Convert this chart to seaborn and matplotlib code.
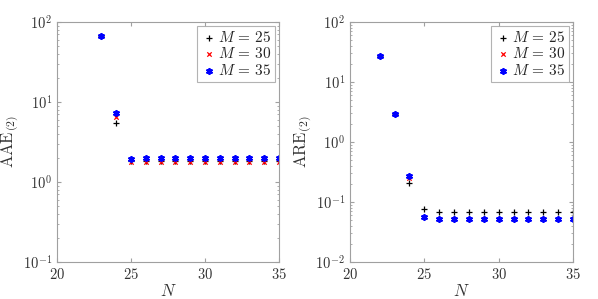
import seaborn as sns
import numpy as np
import pandas as pd
import matplotlib.pyplot as plt

# data
N_aae = [23, 24, 25, 26, 27, 28, 29, 30, 31, 32, 33, 34, 35]
aae_m25 = [66, 5.4, 1.85, 1.82, 1.82, 1.82, 1.82, 1.82, 1.82, 1.82, 1.82, 1.82, 1.82]
aae_m30 = [66, 6.5, 1.78, 1.76, 1.76, 1.76, 1.76, 1.76, 1.76, 1.76, 1.76, 1.76, 1.76]
aae_m35 = [66, 7.2, 1.92, 1.97, 1.97, 1.97, 1.97, 1.97, 1.97, 1.97, 1.97, 1.97, 1.97]

N_are = [22, 23, 24, 25, 26, 27, 28, 29, 30, 31, 32, 33, 34, 35]
are_m25 = [27, 2.97, 0.207, 0.077, 0.068, 0.068, 0.068, 0.068, 0.068, 0.068, 0.068, 0.068, 0.068, 0.068]
are_m30 = [27, 2.97, 0.25, 0.057, 0.052, 0.052, 0.052, 0.052, 0.052, 0.052, 0.052, 0.052, 0.052, 0.052]
are_m35 = [27, 2.97, 0.275, 0.057, 0.053, 0.053, 0.053, 0.053, 0.053, 0.053, 0.053, 0.053, 0.053, 0.053]

M_labels = ['$M\\,=\\,25$', '$M\\,=\\,30$', '$M\\,=\\,35$']

sns.set_style('ticks')
plt.rcParams['font.family'] = ['serif']
plt.rcParams['font.serif'] = ['cmr10', 'DejaVu Serif']
plt.rcParams['mathtext.fontset'] = 'cm'
plt.rcParams['axes.formatter.use_mathtext'] = True
plt.rcParams['axes.unicode_minus'] = False

edge = '#a0a0a0'
txt = '#333333'

fig = plt.figure(figsize=(5.98, 2.99), dpi=100)
ax1 = fig.add_axes([57 / 598, 37 / 299, 222 / 598, 240 / 299])
ax2 = fig.add_axes([350 / 598, 37 / 299, 223 / 598, 240 / 299])

styles = [('+', 'black', 22), ('x', 'red', 10), ((6, 2, 0), 'blue', 13)]


def draw(ax, N, series, ylim, ylabel):
    for vals, lab, (mk, col, sz) in zip(series, M_labels, styles):
        df = pd.DataFrame({'N': N, 'v': vals})
        lw = 0.9 if mk in ('+', 'x') else 1.5
        sns.scatterplot(data=df, x='N', y='v', ax=ax, marker=mk, color=col, s=sz,
                        label=lab, linewidths=lw)
    ax.set_yscale('log')
    ax.set_xlim(20, 35)
    ax.set_ylim(*ylim)
    ax.set_xticks([20, 25, 30, 35])
    ax.set_xlabel('$N$', fontsize=12, color=txt, labelpad=1)
    ax.set_ylabel(ylabel, fontsize=12, color=txt, labelpad=1)
    ax.tick_params(which='both', direction='in', top=True, right=True, colors=edge,
                   labelcolor=txt, labelsize=10.5)
    ax.tick_params(which='major', length=3)
    ax.tick_params(which='minor', length=1.5)
    for s in ax.spines.values():
        s.set_color(edge)
        s.set_linewidth(0.8)
    leg = ax.legend(loc='upper right', fontsize=11, frameon=True, fancybox=False,
                    handletextpad=0.1, borderpad=0.25, labelspacing=0.1,
                    borderaxespad=0.25, handlelength=1.0)
    leg.get_frame().set_edgecolor(edge)
    leg.get_frame().set_linewidth(0.8)


draw(ax1, N_aae, [aae_m25, aae_m30, aae_m35], (0.1, 100), r'$\mathrm{AAE}_{(2)}$')
draw(ax2, N_are, [are_m25, are_m30, are_m35], (0.01, 100), r'$\mathrm{ARE}_{(2)}$')

fig.savefig('out.png', dpi=100)
